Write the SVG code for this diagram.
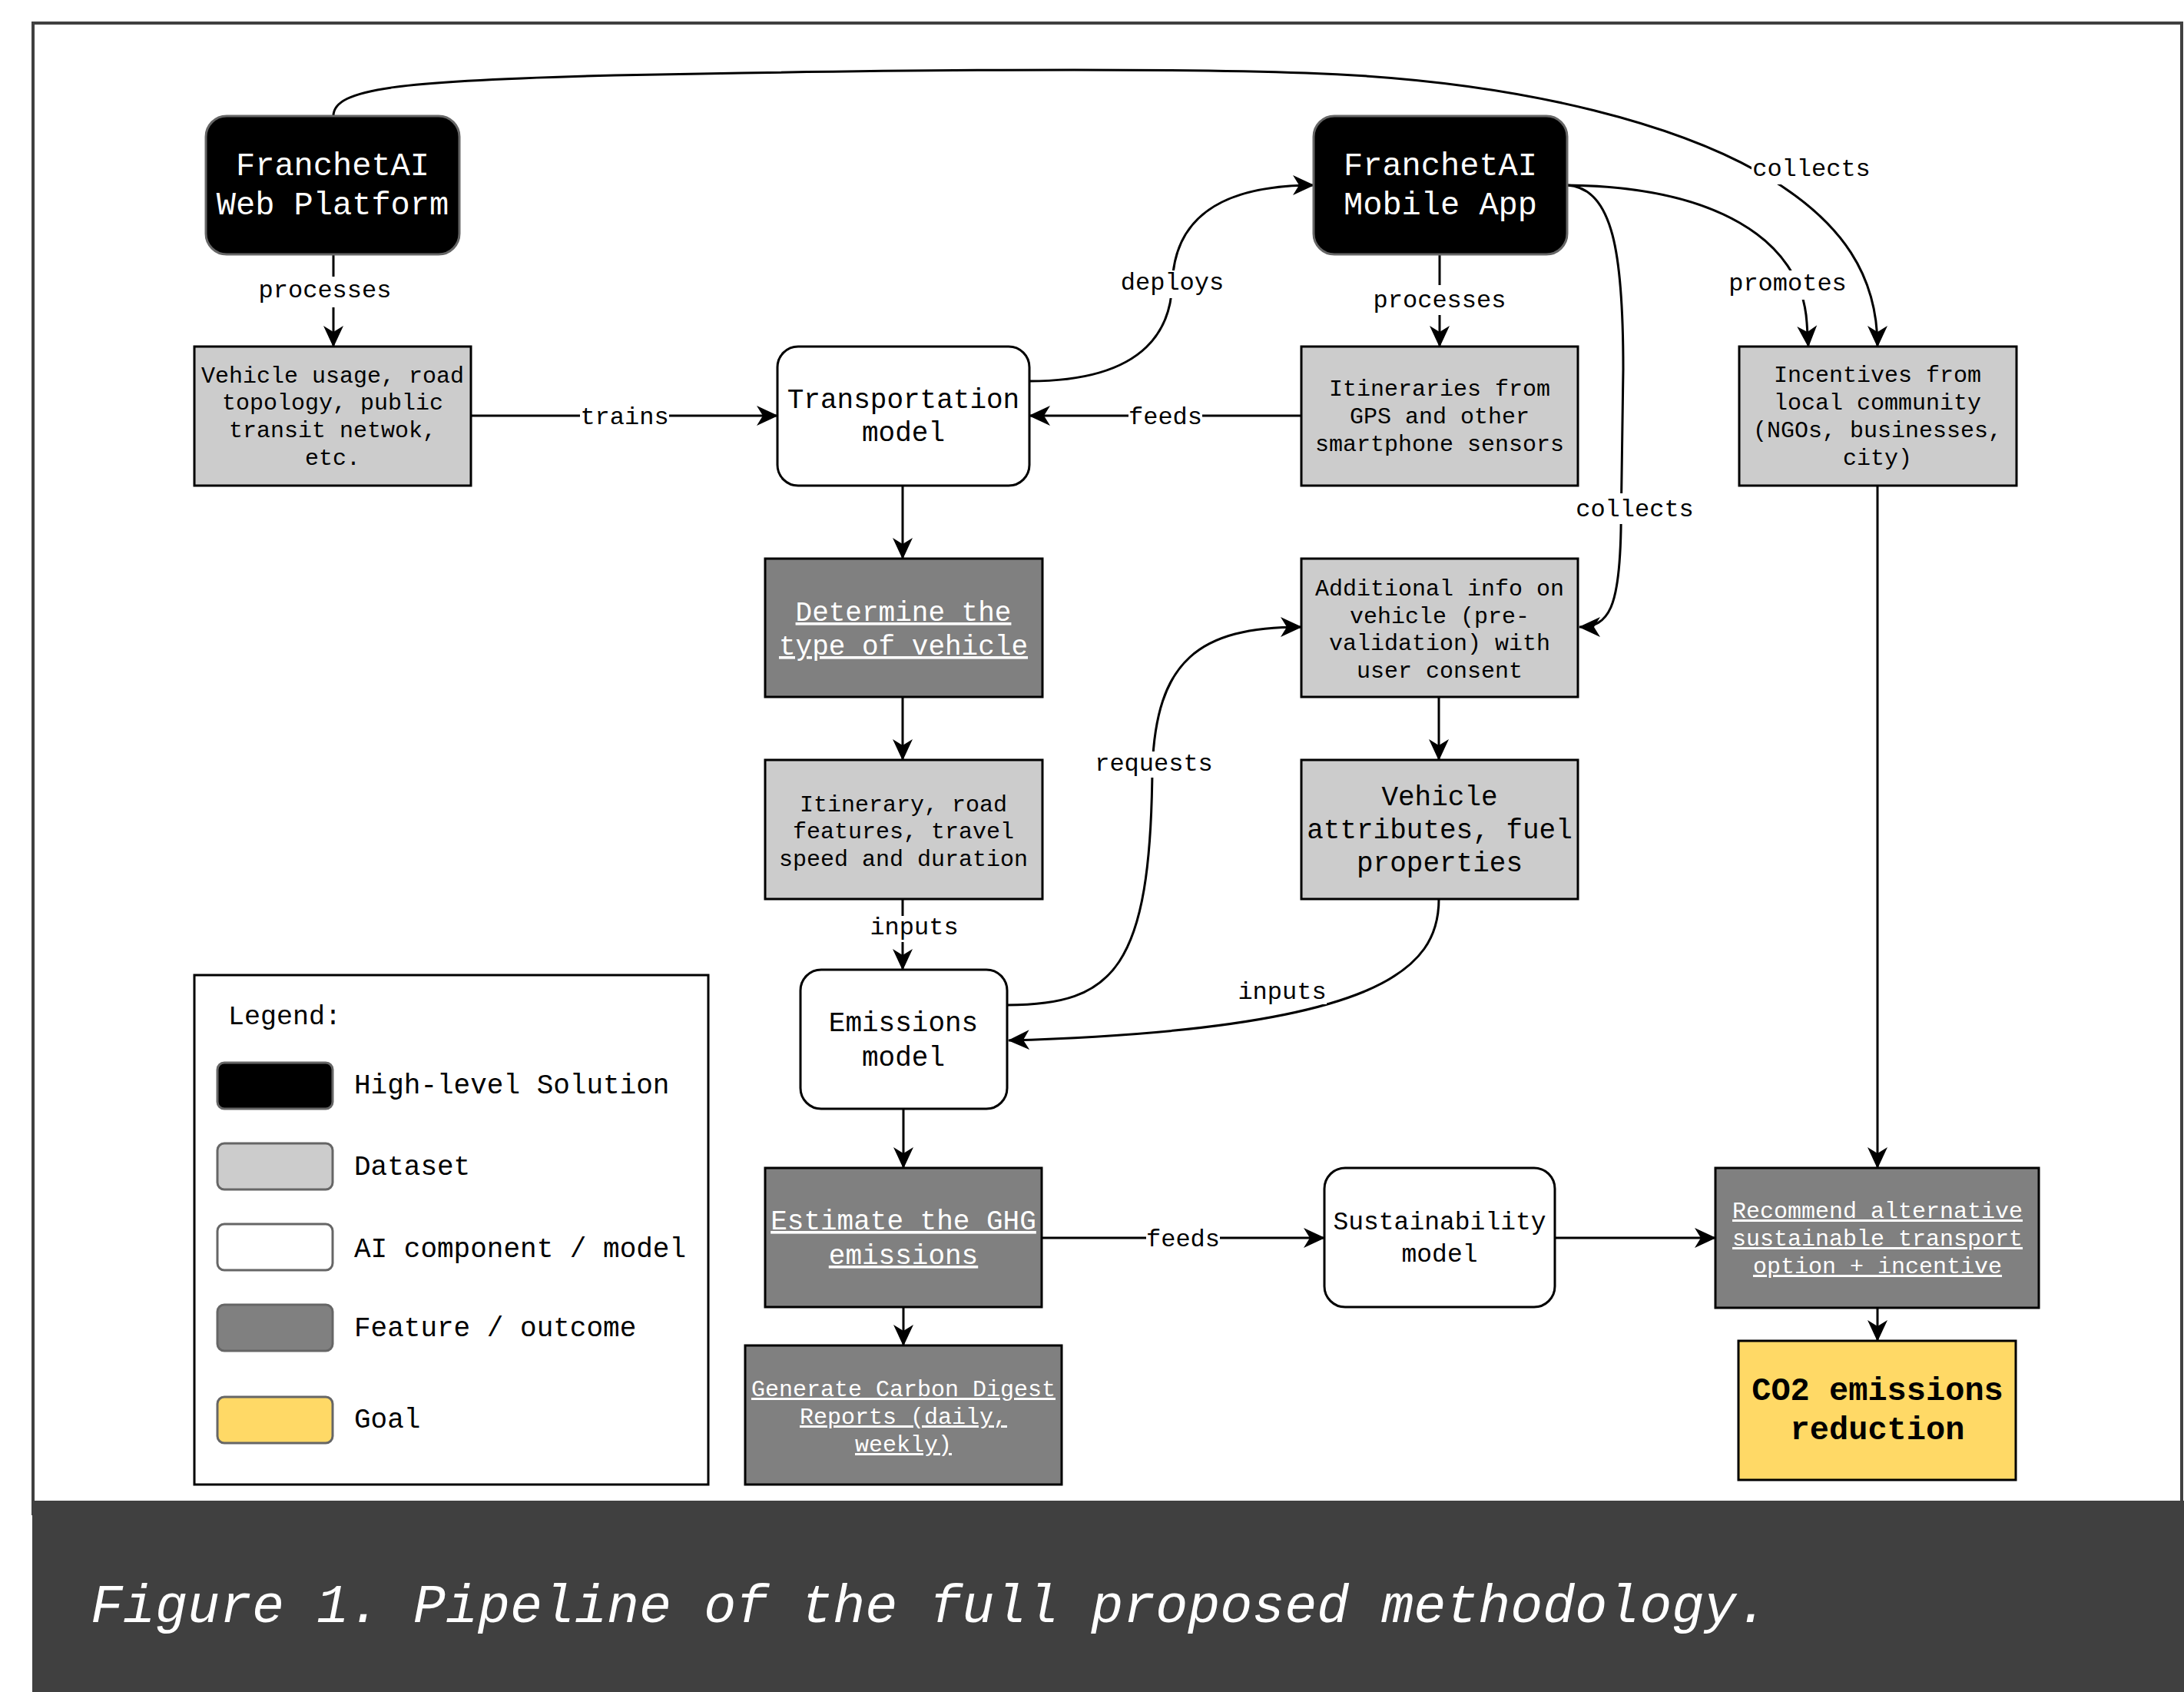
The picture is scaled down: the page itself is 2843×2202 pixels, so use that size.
<svg xmlns="http://www.w3.org/2000/svg" width="2843" height="2202" viewBox="0 0 2843 2202">
<style>
text{font-family:"Liberation Mono","DejaVu Sans Mono",monospace;text-anchor:middle}
.lbl{font-size:32px;fill:#000}
.lb{fill:#fff}
.e{fill:none;stroke:#000;stroke-width:3}
.ea{fill:none;stroke:#000;stroke-width:3;marker-end:url(#arr)}
.hl{fill:#000;stroke:#666;stroke-width:3}
.ai{fill:#fff;stroke:#000;stroke-width:3}
.ds{fill:#ccc;stroke:#000;stroke-width:3}
.ft{fill:#808080;stroke:#000;stroke-width:3}
.gl{fill:#ffd966;stroke:#000;stroke-width:3}
.w42{font-size:42px;fill:#fff}
.t36{font-size:36px;fill:#000}
.t30{font-size:30px;fill:#000}
.u36{font-size:36px;fill:#fff;text-decoration:underline}
.u30{font-size:30px;fill:#fff;text-decoration:underline}
.lg{font-size:36px;fill:#000;text-anchor:start}
.sw{stroke:#666;stroke-width:3}
</style>
<defs>
<marker id="arr" markerUnits="userSpaceOnUse" markerWidth="28" markerHeight="28" viewBox="0 0 28 28" refX="27" refY="14" orient="auto">
<path d="M0,1 L28,14 L0,27 L8,14 Z" fill="#000"/>
</marker>
</defs>
<rect x="0" y="0" width="2843" height="2202" fill="#fff"/>
<rect id="frame" x="43" y="30" width="2797" height="1940" fill="#fff" stroke="#404040" stroke-width="4"/>

<g id="connectors">
<line class="ea" x1="434" y1="331" x2="434" y2="451"/>
<line class="ea" x1="613" y1="541" x2="1012" y2="541"/>
<line class="ea" x1="1694" y1="541" x2="1340" y2="541"/>
<path class="ea" d="M1340,496 C1500,496 1524,420 1526,370 C1528,290 1580,241 1710,241"/>
<line class="ea" x1="1874" y1="331" x2="1874" y2="451"/>
<line class="ea" x1="1175" y1="632" x2="1175" y2="727"/>
<line class="ea" x1="1175" y1="907" x2="1175" y2="989"/>
<line class="ea" x1="1175" y1="1170" x2="1175" y2="1262"/>
<line class="ea" x1="1176" y1="1443" x2="1176" y2="1520"/>
<line class="ea" x1="1176" y1="1701" x2="1176" y2="1751"/>
<line class="ea" x1="1356" y1="1611" x2="1724" y2="1611"/>
<line class="ea" x1="2024" y1="1611" x2="2233" y2="1611"/>
<line class="ea" x1="2444" y1="632" x2="2444" y2="1520"/>
<line class="ea" x1="2444" y1="1702" x2="2444" y2="1745"/>
<line class="ea" x1="1873" y1="907" x2="1873" y2="989"/>
<path class="ea" d="M1311,1308 C1450,1308 1498,1260 1500,1000 C1505,860 1560,816 1694,816"/>
<path class="ea" d="M1873,1170 C1873,1260 1800,1340 1313,1354"/>
<path class="ea" d="M2040,241 C2100,245 2113,330 2113,480 L2110,690 C2108,790 2095,816 2056,816"/>
<path class="ea" d="M2040,241 C2230,243 2345,310 2352,420 L2354,451"/>
<path class="ea" d="M434,151 C434,115 520,105 800,98 C1200,90 1500,88 1700,95 C2000,105 2200,170 2300,230 C2400,290 2444,360 2444,451"/>
<g id="edge-labels">
<rect class="lb" x="335" y="360" width="176" height="40"/>
<text class="lbl" x="423" y="387">processes</text>
<rect class="lb" x="755" y="526" width="116" height="32"/>
<text class="lbl" x="813" y="552">trains</text>
<rect class="lb" x="1469" y="526" width="96" height="32"/>
<text class="lbl" x="1517" y="552">feeds</text>
<rect class="lb" x="1459" y="352" width="134" height="36"/>
<text class="lbl" x="1526" y="377">deploys</text>
<rect class="lb" x="1786" y="371" width="176" height="39"/>
<text class="lbl" x="1874" y="400">processes</text>
<rect class="lb" x="1132" y="1192" width="116" height="34"/>
<text class="lbl" x="1190" y="1216">inputs</text>
<rect class="lb" x="1424" y="978" width="156" height="34"/>
<text class="lbl" x="1502" y="1003">requests</text>
<rect class="lb" x="1611" y="1275" width="116" height="32"/>
<text class="lbl" x="1669" y="1300">inputs</text>
<rect class="lb" x="1492" y="1596" width="96" height="32"/>
<text class="lbl" x="1540" y="1622">feeds</text>
<rect class="lb" x="2050" y="642" width="156" height="40"/>
<text class="lbl" x="2128" y="672">collects</text>
<rect class="lb" x="2249" y="352" width="156" height="38"/>
<text class="lbl" x="2327" y="378">promotes</text>
<rect class="lb" x="2280" y="205" width="156" height="35"/>
<text class="lbl" x="2358" y="229">collects</text>
</g>
</g>

<g id="web-platform">
<rect class="hl" x="268" y="151" width="330" height="180" rx="27"/>
<text class="w42" x="433" y="228">FranchetAI</text>
<text class="w42" x="433" y="279">Web Platform</text>
</g>
<g id="mobile-app">
<rect class="hl" x="1710" y="151" width="330" height="180" rx="27"/>
<text class="w42" x="1875" y="228">FranchetAI</text>
<text class="w42" x="1875" y="279">Mobile App</text>
</g>
<g id="vehicle-usage">
<rect class="ds" x="253" y="451" width="360" height="181"/>
<text class="t30" x="433" y="498">Vehicle usage, road</text>
<text class="t30" x="433" y="533">topology, public</text>
<text class="t30" x="433" y="569">transit netwok,</text>
<text class="t30" x="433" y="605">etc.</text>
</g>
<g id="transport-model">
<rect class="ai" x="1012" y="451" width="328" height="181" rx="27"/>
<text class="t36" x="1176" y="531">Transportation</text>
<text class="t36" x="1176" y="574">model</text>
</g>
<g id="itineraries">
<rect class="ds" x="1694" y="451" width="360" height="181"/>
<text class="t30" x="1874" y="515">Itineraries from</text>
<text class="t30" x="1874" y="551">GPS and other</text>
<text class="t30" x="1874" y="587">smartphone sensors</text>
</g>
<g id="incentives">
<rect class="ds" x="2264" y="451" width="361" height="181"/>
<text class="t30" x="2444" y="497">Incentives from</text>
<text class="t30" x="2444" y="533">local community</text>
<text class="t30" x="2444" y="569">(NGOs, businesses,</text>
<text class="t30" x="2444" y="605">city)</text>
</g>
<g id="determine-vehicle">
<rect class="ft" x="996" y="727" width="361" height="180"/>
<text class="u36" x="1176" y="808">Determine the</text>
<text class="u36" x="1176" y="852">type of vehicle</text>
</g>
<g id="additional-info">
<rect class="ds" x="1694" y="727" width="360" height="180"/>
<text class="t30" x="1874" y="775">Additional info on</text>
<text class="t30" x="1874" y="811">vehicle (pre-</text>
<text class="t30" x="1874" y="846">validation) with</text>
<text class="t30" x="1874" y="882">user consent</text>
</g>
<g id="itinerary-features">
<rect class="ds" x="996" y="989" width="361" height="181"/>
<text class="t30" x="1176" y="1056">Itinerary, road</text>
<text class="t30" x="1176" y="1091">features, travel</text>
<text class="t30" x="1176" y="1127">speed and duration</text>
</g>
<g id="vehicle-attributes">
<rect class="ds" x="1694" y="989" width="360" height="181"/>
<text class="t36" x="1874" y="1048">Vehicle</text>
<text class="t36" x="1874" y="1091">attributes, fuel</text>
<text class="t36" x="1874" y="1134">properties</text>
</g>
<g id="emissions-model">
<rect class="ai" x="1042" y="1262" width="269" height="181" rx="27"/>
<text class="t36" x="1176" y="1342">Emissions</text>
<text class="t36" x="1176" y="1387">model</text>
</g>
<g id="estimate-ghg">
<rect class="ft" x="996" y="1520" width="360" height="181"/>
<text class="u36" x="1176" y="1600">Estimate the GHG</text>
<text class="u36" x="1176" y="1645">emissions</text>
</g>
<g id="sustainability-model">
<rect class="ai" x="1724" y="1520" width="300" height="181" rx="27"/>
<text class="t36" x="1874" y="1600" style="font-size:33px">Sustainability</text>
<text class="t36" x="1874" y="1642" style="font-size:33px">model</text>
</g>
<g id="recommend">
<rect class="ft" x="2233" y="1520" width="421" height="182"/>
<text class="u30" x="2444" y="1585">Recommend alternative</text>
<text class="u30" x="2444" y="1621">sustainable transport</text>
<text class="u30" x="2444" y="1657">option + incentive</text>
</g>
<g id="carbon-digest">
<rect class="ft" x="970" y="1751" width="412" height="181"/>
<text class="u30" x="1176" y="1817">Generate Carbon Digest</text>
<text class="u30" x="1176" y="1853">Reports (daily,</text>
<text class="u30" x="1176" y="1889">weekly)</text>
</g>
<g id="co2-goal">
<rect class="gl" x="2263" y="1745" width="361" height="181"/>
<text x="2444" y="1822" style="font-size:42px;font-weight:bold;fill:#000">CO2 emissions</text>
<text x="2444" y="1873" style="font-size:42px;font-weight:bold;fill:#000">reduction</text>
</g>

<g id="legend">
<rect x="253" y="1269" width="669" height="663" fill="#fff" stroke="#000" stroke-width="3"/>
<text class="lg" x="297" y="1333" style="font-size:35px">Legend:</text>
<rect class="sw" x="283" y="1383" width="150" height="60" rx="9" fill="#000"/>
<text class="lg" x="461" y="1423">High-level Solution</text>
<rect class="sw" x="283" y="1488" width="150" height="60" rx="9" fill="#ccc"/>
<text class="lg" x="461" y="1529">Dataset</text>
<rect class="sw" x="283" y="1593" width="150" height="60" rx="9" fill="#fff"/>
<text class="lg" x="461" y="1636">AI component / model</text>
<rect class="sw" x="283" y="1698" width="150" height="60" rx="9" fill="#808080"/>
<text class="lg" x="461" y="1739">Feature / outcome</text>
<rect class="sw" x="283" y="1818" width="150" height="60" rx="9" fill="#ffd966"/>
<text class="lg" x="461" y="1858">Goal</text>
</g>

<g id="caption">
<rect x="42" y="1953" width="2801" height="249" fill="#404040"/>
<text x="118" y="2111" style="font-size:70px;font-style:italic;fill:#fff;text-anchor:start">Figure 1. Pipeline of the full proposed methodology.</text>
</g>
</svg>
